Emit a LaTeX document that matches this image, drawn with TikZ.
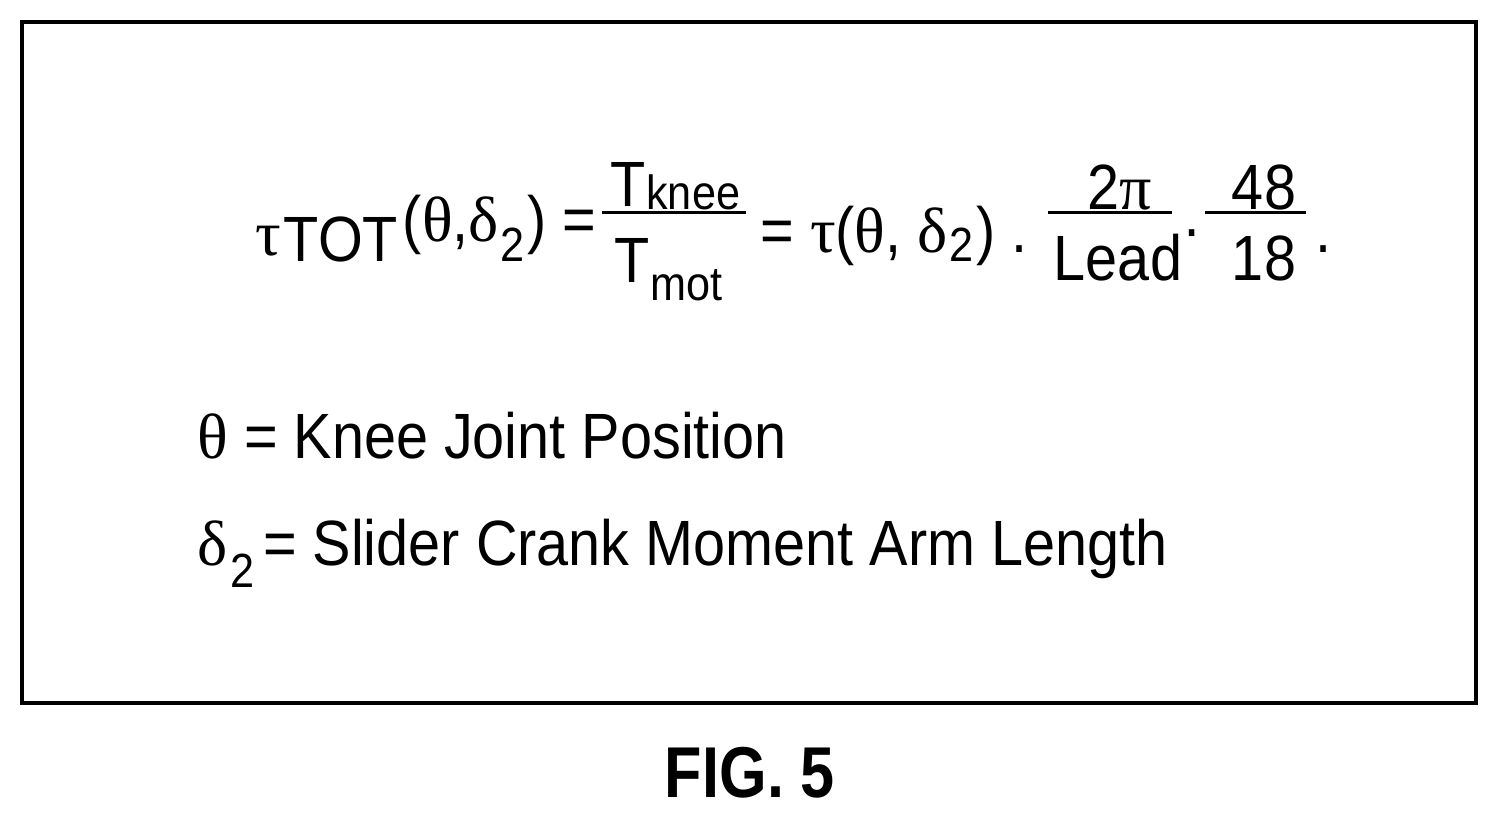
\documentclass[tikz,border=0pt]{standalone}
\usepackage{fontspec}
\usetikzlibrary{calc}
\setmainfont[FakeStretch=0.9]{Liberation Sans}
\newfontfamily\gr{Liberation Serif}
\newfontfamily\figf[FakeStretch=0.85]{Liberation Sans}
\begin{document}
\begin{tikzpicture}[x=0.5pt,y=-0.5pt,
  t/.style={anchor=base west,inner sep=0pt,font=\fontsize{32}{36}\selectfont},
  s/.style={anchor=base west,inner sep=0pt,font=\fontsize{24}{28}\selectfont},
  c/.style={anchor=base,inner sep=0pt,font=\fontsize{32}{36}\selectfont},
  bar/.style={line width=1.5pt}]
\useasboundingbox (0,0) rectangle (1498,818);
\draw[line width=1.6pt] (22,22) rectangle (1476,703);
% left side
\node[t] (tau) at (255,256) {\gr τ};
\node[t] (tot) at ($(tau.base east)+(2,6)$) {TOT};
\node[t] (arg) at ($(tot.base east)+(4,-20)$) {({\gr θ},{\gr δ}};
\node[s] (two) at ($(arg.base east)+(1,20)$) {2};
\node[t] (cp) at ($(two.base east)+(2,-20)$) {) =};
% fraction T_knee / T_mot
\node[t] (tk) at (610,206) {T};
\node[s] (knee) at ($(tk.base east)+(0,4)$) {knee};
\node[t] (tm) at (614,282) {T};
\node[s] (mot) at ($(tm.base east)+(0,18)$) {mot};
\coordinate (b1a) at (602,213); \coordinate (b1b) at (746,213);
\draw[bar] (b1a) -- (b1b);
\node[t] (eq2) at (760,252) {= {\gr τ}({\gr θ}, {\gr δ}};
\node[s] (two2) at ($(eq2.base east)+(1,10)$) {2};
\node[t] (cp2) at ($(two2.base east)+(2,-10)$) {) .};
\node[c] (num1) at (1120,210) {2{\gr π}};
\node[c] (den1) at (1118,280) {Lead};
\coordinate (b2a) at (1048,213); \coordinate (b2b) at (1172,213);
\draw[bar] (b2a) -- (b2b);
\node[t] (dot2) at (1182,250) {·};
\node[c] (num2) at (1264,210) {48};
\node[c] (den2) at (1264,280) {18};
\coordinate (b3a) at (1205,213); \coordinate (b3b) at (1306,213);
\draw[bar] (b3a) -- (b3b);
\node[t] (dot3) at (1315,252) {.};
% definitions
\node[t] (l1) at (197,458) {{\gr θ} = Knee Joint Position};
\node[t] (d2) at (197,565) {\gr δ};
\node[s] (d2s) at ($(d2.base east)+(2,22)$) {2};
\node[t] (l2) at ($(d2s.base east)+(8,-22)$) {= Slider Crank Moment Arm Length};
\node[anchor=base,inner sep=0pt,font=\figf\bfseries\fontsize{36}{40}\selectfont] (fig) at (750,797) {FIG. 5};
\end{tikzpicture}
\end{document}
